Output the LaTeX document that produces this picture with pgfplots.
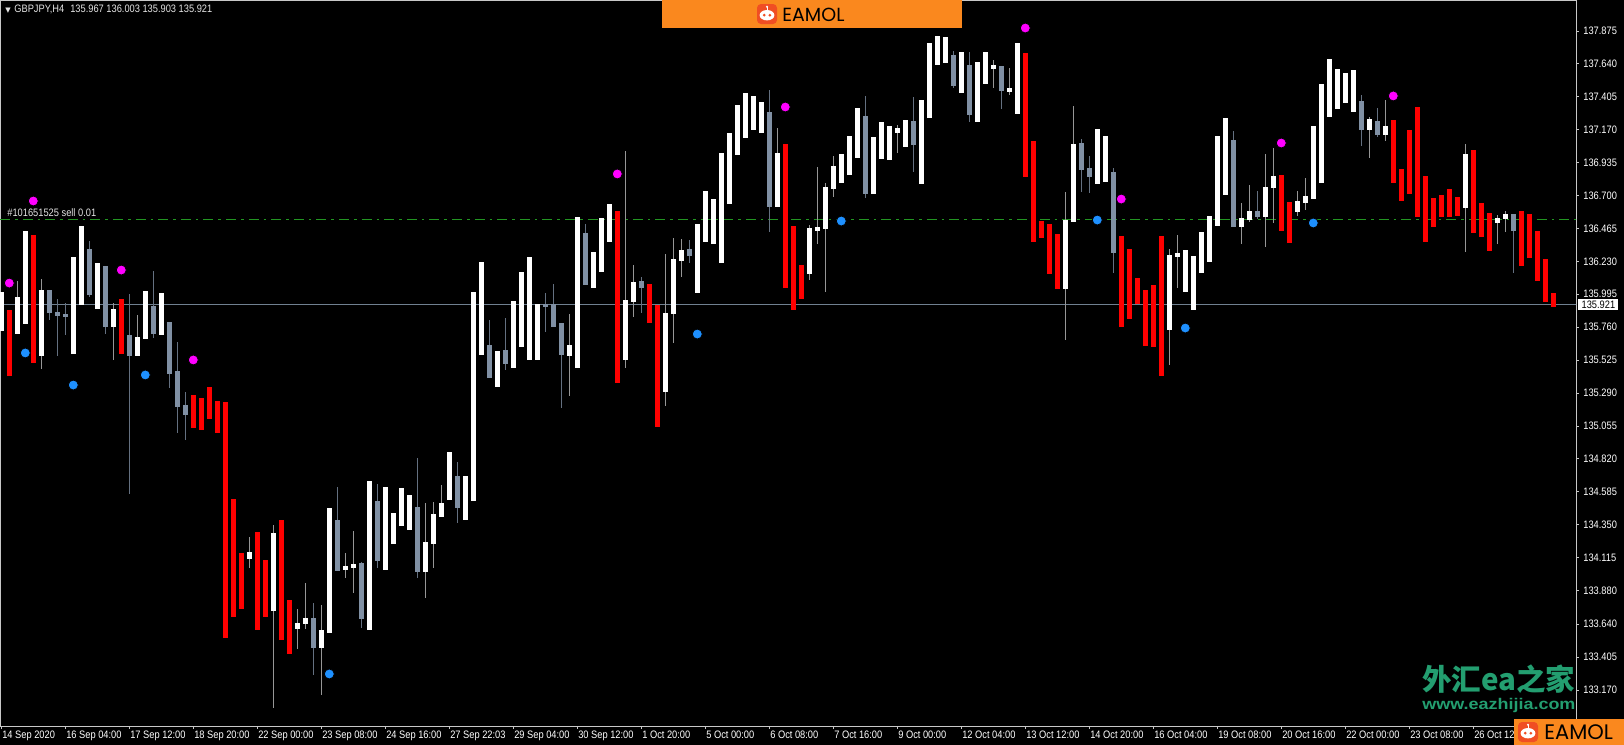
\documentclass[border=0pt]{standalone}
\usepackage{fontspec}
\setmainfont{Liberation Sans}[FakeStretch=0.86]
\newfontfamily\dejavu{DejaVu Sans}
\newfontfamily\cjk{Noto Sans CJK SC}
\newfontfamily\logofont{Poppins}
\usepackage{graphicx}
\usepackage{pgfplots}
\usepackage{pgfplotstable}
\pgfplotsset{compat=1.18}

\definecolor{mtgrey}{RGB}{128,144,164}
\definecolor{wickw}{RGB}{150,150,150}
\definecolor{wickg}{RGB}{100,112,128}
\definecolor{mtred}{RGB}{255,0,0}
\definecolor{sellgreen}{RGB}{34,150,34}
\definecolor{bidline}{RGB}{112,128,144}
\definecolor{eaorange}{RGB}{250,136,30}
\definecolor{logored}{RGB}{240,78,35}
\definecolor{wmgreen}{RGB}{35,158,112}
\definecolor{dotblue}{RGB}{30,144,255}
\definecolor{dotmag}{RGB}{255,0,255}
\definecolor{frame}{RGB}{200,200,200}

\newcommand\tl{\fontsize{5.4}{6}\selectfont}

% white (bullish) candles: i open high low close
\pgfplotstableread{
i o h l c
0 135.740 136.004 135.740 136.004
2 135.718 136.090 135.718 135.968
3 135.790 136.440 135.790 136.440
5 135.561 136.104 135.461 136.025
9 135.576 136.254 135.576 136.254
10 135.925 136.475 135.925 136.475
12 135.897 136.218 135.897 136.218
14 135.768 135.933 135.526 135.890
17 135.561 135.847 135.561 135.690
18 135.683 136.018 135.683 136.018
20 135.711 135.997 135.711 135.997
31 134.112 134.262 134.041 134.148
34 133.741 134.348 133.041 134.290
37 133.612 133.748 133.462 133.648
38 133.648 133.933 133.605 133.683
40 133.476 133.776 133.134 133.598
41 133.584 134.469 133.584 134.469
43 134.033 134.148 133.969 134.048
44 134.041 134.305 133.862 134.062
46 133.605 134.662 133.605 134.662
48 134.033 134.619 134.033 134.619
49 134.219 134.433 134.219 134.433
50 134.348 134.612 134.348 134.612
51 134.319 134.562 134.319 134.562
53 134.019 134.505 133.826 134.219
54 134.219 134.512 134.041 134.419
55 134.412 134.633 134.412 134.505
56 134.533 134.869 134.533 134.869
58 134.390 134.697 134.390 134.697
59 134.519 136.004 134.519 136.004
60 135.568 136.225 135.568 136.225
62 135.340 135.590 135.340 135.590
64 135.476 135.947 135.476 135.947
65 135.626 136.147 135.626 136.147
66 135.533 136.261 135.533 136.261
67 135.533 135.925 135.533 135.925
71 135.561 135.854 135.269 135.626
72 135.476 136.547 135.476 136.547
74 136.047 136.297 136.047 136.297
75 136.161 136.539 136.161 136.539
76 136.375 136.639 136.375 136.639
78 135.533 137.018 135.468 135.954
79 135.947 136.204 135.833 136.082
83 135.304 136.282 135.197 135.861
84 135.861 136.397 135.647 136.240
85 136.240 136.390 136.118 136.311
87 136.011 136.497 136.011 136.497
88 136.375 136.732 136.375 136.732
89 136.361 136.675 136.361 136.675
90 136.225 137.004 136.225 137.004
91 136.647 137.146 136.647 137.146
92 136.996 137.346 136.996 137.346
93 137.118 137.425 137.118 137.425
94 137.175 137.411 137.175 137.411
95 137.154 137.361 137.154 137.361
97 136.625 137.182 136.625 137.004
101 136.147 136.489 136.097 136.461
102 136.454 136.904 136.354 136.468
103 136.468 136.789 136.011 136.761
104 136.754 136.982 136.689 136.904
105 136.797 136.996 136.797 136.996
106 136.854 137.118 136.854 137.118
107 136.975 137.318 136.975 137.318
109 136.718 137.118 136.718 137.118
110 136.968 137.225 136.968 137.225
111 136.961 137.196 136.961 137.196
112 137.154 137.204 137.004 137.182
113 137.054 137.239 137.054 137.239
115 136.789 137.382 136.789 137.382
116 137.261 137.782 137.261 137.782
117 137.639 137.839 137.639 137.839
118 137.653 137.832 137.653 137.832
120 137.439 137.718 137.439 137.718
122 137.232 137.653 137.232 137.653
123 137.503 137.718 137.503 137.718
124 137.610 137.668 137.468 137.625
126 137.446 137.610 137.418 137.468
127 137.289 137.782 137.289 137.782
133 136.040 136.725 135.668 136.525
134 136.518 137.339 136.518 137.068
137 136.789 137.175 136.789 137.175
138 136.804 137.125 136.804 137.125
146 135.747 136.318 135.490 136.275
147 136.268 136.418 136.040 136.290
148 136.018 136.311 136.018 136.311
149 135.890 136.268 135.890 136.268
150 136.154 136.440 136.154 136.440
151 136.232 136.554 136.232 136.554
152 136.489 137.125 136.489 137.125
153 136.711 137.254 136.711 137.254
155 136.482 136.647 136.354 136.539
156 136.532 136.775 136.511 136.582
158 136.554 136.996 136.332 136.761
159 136.761 137.039 136.504 136.839
162 136.589 136.732 136.554 136.661
163 136.654 136.825 136.597 136.697
164 136.682 137.196 136.682 137.196
165 136.797 137.496 136.797 137.496
166 137.268 137.668 137.268 137.668
167 137.325 137.603 137.325 137.603
168 137.368 137.568 137.368 137.568
169 137.303 137.596 137.303 137.596
171 137.175 137.261 136.968 137.239
173 137.139 137.382 137.089 137.196
183 136.618 137.068 136.297 136.996
187 136.511 136.561 136.354 136.539
188 136.539 136.589 136.440 136.568
}\whitetab

% grey candles: i open high low close
\pgfplotstableread{
i o h l c
6 136.025 136.025 135.811 135.868
7 135.868 135.961 135.554 135.847
8 135.854 135.933 135.704 135.840
11 136.318 136.375 135.975 135.997
13 136.190 136.190 135.711 135.768
16 135.704 135.997 134.569 135.561
19 135.904 136.161 135.683 135.718
21 135.790 135.790 135.326 135.433
22 135.447 135.654 135.004 135.197
23 135.204 135.297 134.954 135.140
39 133.683 133.791 133.277 133.476
42 134.383 134.619 134.026 134.026
45 134.076 134.083 133.612 133.683
47 134.519 134.640 134.041 134.098
52 134.469 134.826 133.969 134.019
57 134.690 134.797 134.362 134.476
61 135.626 135.811 135.404 135.404
63 135.590 135.826 135.454 135.504
68 135.925 136.004 135.726 135.911
69 135.918 136.068 135.768 135.768
70 135.783 135.783 135.183 135.568
73 136.432 136.497 136.068 136.068
80 136.090 136.118 135.861 136.047
86 136.311 136.382 136.218 136.275
96 137.296 137.453 136.440 136.625
108 137.261 137.411 136.682 136.718
114 137.232 137.403 136.868 137.068
119 137.703 137.732 137.468 137.489
121 137.632 137.725 137.225 137.282
125 137.618 137.618 137.318 137.453
135 137.068 137.103 136.725 136.889
136 136.889 136.982 136.718 136.839
139 136.868 136.896 136.147 136.297
154 137.096 137.161 136.482 136.482
157 136.582 136.732 136.532 136.554
170 137.368 137.418 137.054 137.175
172 137.232 137.325 137.118 137.139
189 136.568 136.568 136.147 136.454
}\greytab

% red bars: i top bottom
\pgfplotstableread{
i o c
1 135.883 135.411
4 136.418 135.504
15 135.961 135.568
24 135.276 135.040
25 135.254 135.026
26 135.333 135.104
27 135.233 135.004
28 135.226 133.541
29 134.533 133.691
30 134.148 133.748
32 134.298 133.598
33 134.098 133.691
35 134.383 133.526
36 133.812 133.426
77 136.589 135.361
81 136.068 135.790
82 135.918 135.047
98 137.068 136.040
99 136.482 135.883
100 136.204 135.961
128 137.718 136.832
129 137.089 136.368
130 136.518 136.397
131 136.497 136.140
132 136.425 136.032
140 136.411 135.761
141 136.318 135.819
142 136.111 135.925
143 136.025 135.626
144 136.061 135.618
145 136.411 135.411
160 136.847 136.447
161 136.654 136.361
174 137.239 136.789
175 136.889 136.661
176 137.168 136.711
177 137.332 136.547
178 136.839 136.368
179 136.682 136.475
180 136.704 136.547
181 136.747 136.547
182 136.689 136.554
184 137.025 136.432
185 136.647 136.404
186 136.575 136.304
190 136.589 136.197
191 136.568 136.254
192 136.447 136.090
193 136.247 135.940
194 136.003 135.903
}\redtab

\pgfplotstableread{
i y
1 136.075
4 136.661
15 136.168
24 135.526
77 136.854
98 137.332
128 137.896
140 136.675
160 137.075
174 137.411
}\magtab

\pgfplotstableread{
i y
3 135.576
9 135.347
18 135.419
41 133.284
87 135.711
105 136.518
137 136.525
148 135.754
164 136.504
}\bluetab

\begin{document}
\begin{tikzpicture}
\fill[black] (0,-372.5pt) rectangle (812pt,0);
\useasboundingbox (0,-372.5pt) rectangle (812pt,0);
\begin{axis}[
  at={(0pt,0pt)}, anchor=north west,
  scale only axis, width=788pt, height=363pt,
  xmin=-0.1625, xmax=196.84, ymin=132.9125, ymax=138.096,
  axis line style={draw=frame, line width=0.5pt},
  xtick pos=bottom, ytick pos=right, yticklabel pos=right,
  tick align=outside, major tick length=1.5pt,
  tick style={draw=frame, line width=0.4pt},
  xtick={0,8,...,184},
  xticklabels={14 Sep 2020,16 Sep 04:00,17 Sep 12:00,18 Sep 20:00,22 Sep 00:00,23 Sep 08:00,24 Sep 16:00,27 Sep 22:03,29 Sep 04:00,30 Sep 12:00,1 Oct 20:00,5 Oct 00:00,6 Oct 08:00,7 Oct 16:00,9 Oct 00:00,12 Oct 04:00,13 Oct 12:00,14 Oct 20:00,16 Oct 04:00,19 Oct 08:00,20 Oct 16:00,22 Oct 00:00,23 Oct 08:00,26 Oct 12:00},
  ytick={137.875,137.640,137.405,137.170,136.935,136.700,136.465,136.230,135.995,135.760,135.525,135.290,135.055,134.820,134.585,134.350,134.115,133.880,133.640,133.405,133.170},
  yticklabels={137.875,137.640,137.405,137.170,136.935,136.700,136.465,136.230,135.995,135.760,135.525,135.290,135.055,134.820,134.585,134.350,134.115,133.880,133.640,133.405,133.170},
  xticklabel style={anchor=north west, inner sep=0pt, xshift=0.3pt, yshift=-1.0pt, font=\tl, text=white},
  yticklabel style={anchor=west, inner sep=0pt, xshift=2pt, font=\tl, text=white},
  clip=true,
]
% bid line and sell order line
\addplot[bidline, line width=0.7pt, forget plot] coordinates {(-1,135.921) (200,135.921)};
\addplot[sellgreen, line width=0.75pt, dash pattern=on 5pt off 2.5pt on 1.3pt off 2.5pt, forget plot] coordinates {(-0.1625,136.530) (200,136.530)};
% wicks
\addplot[draw=none, forget plot, error bars/.cd, y dir=both, y explicit, error mark=none,
  error bar style={draw=wickw, line width=0.6pt}]
  table[x=i, y expr={(\thisrow{h}+\thisrow{l})/2}, y error expr={(\thisrow{h}-\thisrow{l})/2}] {\whitetab};
\addplot[draw=none, forget plot, error bars/.cd, y dir=both, y explicit, error mark=none,
  error bar style={draw=wickg, line width=0.6pt}]
  table[x=i, y expr={(\thisrow{h}+\thisrow{l})/2}, y error expr={(\thisrow{h}-\thisrow{l})/2}] {\greytab};
% bodies
\addplot[draw=none, forget plot, error bars/.cd, y dir=both, y explicit, error mark=none,
  error bar style={draw=white, line width=2.4pt}]
  table[x=i, y expr={(\thisrow{o}+\thisrow{c})/2}, y error expr={abs(\thisrow{c}-\thisrow{o})/2+0.004}] {\whitetab};
\addplot[draw=none, forget plot, error bars/.cd, y dir=both, y explicit, error mark=none,
  error bar style={draw=mtgrey, line width=2.4pt}]
  table[x=i, y expr={(\thisrow{o}+\thisrow{c})/2}, y error expr={abs(\thisrow{c}-\thisrow{o})/2+0.004}] {\greytab};
\addplot[draw=none, forget plot, error bars/.cd, y dir=both, y explicit, error mark=none,
  error bar style={draw=mtred, line width=2.4pt}]
  table[x=i, y expr={(\thisrow{o}+\thisrow{c})/2}, y error expr={abs(\thisrow{c}-\thisrow{o})/2}] {\redtab};
% signal dots
\addplot[only marks, mark=*, mark size=2.5pt, mark options={draw=none, fill=dotmag}] table[x=i, y=y] {\magtab};
\addplot[only marks, mark=*, mark size=2.5pt, mark options={draw=none, fill=dotblue}] table[x=i, y=y] {\bluetab};
\end{axis}

% header text
\node[anchor=west, inner sep=0pt, text=white!90!black] at (2.5pt,-4.6pt)
  {\tl{\dejavu\fontsize{3.5}{4}\selectfont ▼}\hspace{1.8pt}GBPJPY,H4\hspace{3pt}135.967 136.003 135.903 135.921};
\node[anchor=west, inner sep=0pt, text=white!90!black] at (3.5pt,-106.5pt) {\tl \#101651525 sell 0.01};
% current price box
\node[anchor=west, fill=white, text=black, inner xsep=1.6pt, inner ysep=0.9pt] at (789pt,-152.3pt) {\tl 135.921};

% watermark
\node[anchor=north west, inner sep=0pt, text=wmgreen] at (711pt,-332pt) {\resizebox{76.5pt}{!}{\cjk\bfseries 外汇ea之家}};
\node[anchor=north west, inner sep=0pt, text=wmgreen] at (711pt,-349pt) {\resizebox{76.5pt}{5.6pt}{\bfseries www.eazhijia.com}};

% top EAMOL banner
\fill[eaorange] (331pt,0) rectangle (481pt,-14pt);
\begin{scope}[shift={(383.5pt,-7pt)}]
  \fill[logored, rounded corners=2pt] (-5pt,-5pt) rectangle (5pt,5pt);
  \draw[white, line width=0.5pt] (0,1.6pt) -- (0,3.4pt);
  \fill[white] (0,3.6pt) circle (0.6pt);
  \fill[white] (0,-0.6pt) ellipse (3.7pt and 2.6pt);
  \fill[logored] (-1.4pt,-0.6pt) circle (0.75pt);
  \fill[logored] (1.4pt,-0.6pt) circle (0.75pt);
\end{scope}
\node[anchor=west, inner sep=0pt, text=black] at (391pt,-7.2pt) {\fontsize{9.5}{10}\selectfont\logofont EAMOL};

% bottom-right EAMOL badge
\fill[eaorange] (757pt,-359.5pt) rectangle (812pt,-372.5pt);
\begin{scope}[shift={(764pt,-366pt)}]
  \fill[logored, rounded corners=2pt] (-5pt,-5pt) rectangle (5pt,5pt);
  \draw[white, line width=0.5pt] (0,1.6pt) -- (0,3.4pt);
  \fill[white] (0,3.6pt) circle (0.6pt);
  \fill[white] (0,-0.6pt) ellipse (3.7pt and 2.6pt);
  \fill[logored] (-1.4pt,-0.6pt) circle (0.75pt);
  \fill[logored] (1.4pt,-0.6pt) circle (0.75pt);
\end{scope}
\node[anchor=west, inner sep=0pt, text=black] at (772pt,-366.2pt) {\fontsize{10.5}{11}\selectfont\logofont EAMOL};
\end{tikzpicture}
\end{document}
